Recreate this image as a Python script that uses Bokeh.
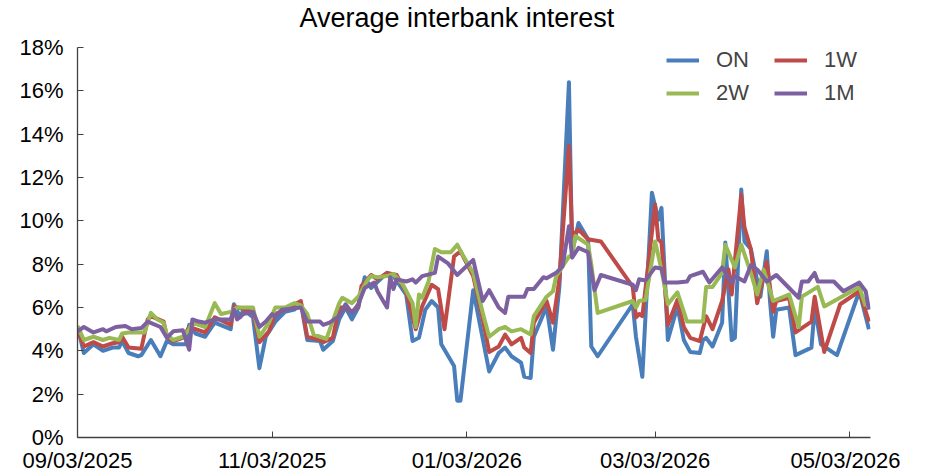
import pandas as pd
from bokeh.plotting import figure
from bokeh.models import (FixedTicker, DatetimeTickFormatter, PrintfTickFormatter,
                          Legend, LegendItem, Range1d, Label)
from bokeh.embed import file_html
from bokeh.resources import INLINE

# ---------------- data ----------------
on_dates = ["2025-09-03","2025-09-05","2025-09-08","2025-09-11","2025-09-14","2025-09-16","2025-09-17",
            "2025-09-19","2025-09-22","2025-09-23","2025-09-26","2025-09-29","2025-10-01","2025-10-03",
            "2025-10-07","2025-10-08","2025-10-10","2025-10-13","2025-10-16","2025-10-21","2025-10-22",
            "2025-10-24","2025-10-25","2025-10-28","2025-10-30","2025-11-01","2025-11-04","2025-11-07",
            "2025-11-10","2025-11-12","2025-11-14","2025-11-18","2025-11-19","2025-11-22","2025-11-24",
            "2025-11-26","2025-11-28","2025-11-30","2025-12-02","2025-12-04","2025-12-09","2025-12-11",
            "2025-12-15","2025-12-17","2025-12-19","2025-12-21","2025-12-23","2025-12-25","2025-12-26",
            "2025-12-30","2025-12-31","2026-01-01","2026-01-05","2026-01-10","2026-01-13","2026-01-15",
            "2026-01-17","2026-01-20","2026-01-21","2026-01-23","2026-01-24","2026-01-28","2026-01-30",
            "2026-02-01","2026-02-04","2026-02-05","2026-02-07","2026-02-10","2026-02-11","2026-02-13",
            "2026-02-24","2026-02-25","2026-02-27","2026-03-02","2026-03-04","2026-03-05","2026-03-07",
            "2026-03-10","2026-03-12","2026-03-14","2026-03-17","2026-03-18","2026-03-19","2026-03-21",
            "2026-03-24","2026-03-25","2026-03-27","2026-03-28","2026-03-30","2026-03-31","2026-04-02",
            "2026-04-05","2026-04-07","2026-04-08","2026-04-09","2026-04-10","2026-04-14","2026-04-16",
            "2026-04-21","2026-04-22","2026-04-24","2026-04-29","2026-05-06","2026-05-09"]
on_values = [5.1,3.9,4.3,4.0,4.15,4.15,4.45,
             3.9,3.75,3.8,4.5,3.75,4.45,4.3,
             4.3,5.2,4.8,4.65,5.3,5.0,6.15,
             5.55,5.9,5.55,3.2,4.65,5.35,5.8,
             5.9,6.2,4.5,4.45,4.05,4.45,5.45,
             6.0,5.45,6.0,7.4,6.9,7.6,7.45,
             6.6,4.45,4.6,5.9,6.3,6.0,4.3,
             3.3,1.7,1.7,6.8,3.05,3.9,4.15,
             3.75,3.45,2.8,2.75,4.65,6.05,4.05,
             6.95,16.4,8.55,9.9,9.15,4.2,3.75,
             6.15,4.65,2.8,11.3,10.05,10.6,4.5,
             6.05,4.5,3.95,3.9,4.5,4.6,4.2,
             5.3,9.0,4.5,4.6,11.45,9.05,8.7,
             6.5,8.6,6.3,4.65,5.9,6.0,3.8,
             4.15,6.0,4.3,3.8,6.75,5.0]

w1_dates = ["2025-09-03","2025-09-05","2025-09-08","2025-09-11","2025-09-14","2025-09-16","2025-09-17",
            "2025-09-19","2025-09-23","2025-09-25","2025-09-26","2025-09-30","2025-10-01","2025-10-03",
            "2025-10-06","2025-10-08","2025-10-10","2025-10-13","2025-10-16","2025-10-21","2025-10-22",
            "2025-10-28","2025-10-30","2025-11-02","2025-11-04","2025-11-07","2025-11-12","2025-11-14",
            "2025-11-18","2025-11-19","2025-11-22","2025-11-24","2025-11-26","2025-11-28","2025-11-30",
            "2025-12-01","2025-12-04","2025-12-06","2025-12-09","2025-12-12","2025-12-15","2025-12-18",
            "2025-12-20","2025-12-23","2025-12-25","2025-12-27","2025-12-30","2026-01-01","2026-01-05",
            "2026-01-08","2026-01-10","2026-01-13","2026-01-15","2026-01-17","2026-01-20","2026-01-21",
            "2026-01-23","2026-01-24","2026-01-28","2026-01-30","2026-02-01","2026-02-04","2026-02-05",
            "2026-02-07","2026-02-10","2026-02-14","2026-02-24","2026-02-25","2026-02-26","2026-02-27",
            "2026-03-03","2026-03-04","2026-03-05","2026-03-07","2026-03-10","2026-03-12","2026-03-14",
            "2026-03-17","2026-03-19","2026-03-21","2026-03-24","2026-03-26","2026-03-27","2026-03-30",
            "2026-03-31","2026-04-02","2026-04-04","2026-04-07","2026-04-09","2026-04-10","2026-04-14",
            "2026-04-16","2026-04-21","2026-04-22","2026-04-25","2026-04-30","2026-05-06","2026-05-09"]
w1_values = [5.0,4.2,4.4,4.2,4.35,4.4,4.65,
             4.15,4.1,5.45,5.6,5.35,4.65,4.45,
             4.6,5.1,5.0,4.85,5.55,5.2,6.05,
             5.8,4.4,4.9,5.7,5.9,6.3,4.65,
             4.5,4.4,4.6,6.0,6.0,5.8,6.05,
             7.0,7.5,7.3,7.6,7.5,6.7,5.0,
             6.05,7.05,6.85,5.0,8.35,8.6,7.45,
             5.45,3.95,4.2,4.75,4.3,4.6,4.15,
             3.9,5.3,6.3,5.3,7.3,13.45,9.3,
             9.6,9.15,9.05,6.95,5.55,5.7,5.6,
             10.75,9.15,9.0,5.2,6.35,5.1,4.6,
             4.45,5.6,5.0,6.3,7.75,6.6,11.2,
             9.7,8.7,6.2,8.1,5.8,6.3,6.45,
             4.85,5.35,6.5,3.95,6.15,6.75,5.35]

w2_dates = ["2025-09-03","2025-09-05","2025-09-08","2025-09-11","2025-09-13","2025-09-16","2025-09-17",
            "2025-09-19","2025-09-24","2025-09-26","2025-09-28","2025-09-30","2025-10-01","2025-10-03",
            "2025-10-06","2025-10-08","2025-10-09","2025-10-13","2025-10-16","2025-10-18","2025-10-21",
            "2025-10-23","2025-10-28","2025-10-30","2025-11-02","2025-11-04","2025-11-07","2025-11-10",
            "2025-11-12","2025-11-14","2025-11-16","2025-11-18","2025-11-20","2025-11-24","2025-11-25",
            "2025-11-28","2025-11-30","2025-12-03","2025-12-04","2025-12-06","2025-12-09","2025-12-11",
            "2025-12-14","2025-12-17","2025-12-18","2025-12-19","2025-12-20","2025-12-22","2025-12-24",
            "2025-12-26","2025-12-29","2025-12-31","2026-01-02","2026-01-05","2026-01-08","2026-01-10",
            "2026-01-13","2026-01-15","2026-01-17","2026-01-20","2026-01-23","2026-01-24","2026-01-28",
            "2026-01-30","2026-01-31","2026-02-04","2026-02-05","2026-02-06","2026-02-10","2026-02-11",
            "2026-02-13","2026-02-24","2026-02-25","2026-02-26","2026-02-28","2026-03-03","2026-03-05",
            "2026-03-07","2026-03-10","2026-03-13","2026-03-18","2026-03-19","2026-03-21","2026-03-24",
            "2026-03-25","2026-03-28","2026-03-30","2026-04-02","2026-04-04","2026-04-06","2026-04-09",
            "2026-04-14","2026-04-17","2026-04-18","2026-04-23","2026-04-25","2026-05-06","2026-05-08"]
w2_values = [5.15,4.5,4.65,4.5,4.6,4.5,4.8,
             4.85,4.85,5.75,5.45,5.3,4.75,4.5,
             4.65,5.0,5.3,5.1,6.2,5.7,5.8,
             6.0,6.0,4.65,5.3,6.0,6.0,6.2,
             6.1,5.7,4.75,4.65,4.55,6.2,6.45,
             6.2,6.5,7.3,7.45,7.4,7.45,7.55,
             7.05,6.2,5.1,6.6,6.45,7.2,8.7,
             8.55,8.55,8.9,8.35,7.6,5.75,4.65,
             5.0,5.1,4.9,5.0,4.75,5.6,6.5,
             6.75,7.45,8.35,8.4,9.3,8.9,8.0,
             5.75,6.3,6.0,6.3,6.35,9.05,7.75,
             6.15,6.7,5.35,5.35,6.95,6.95,7.6,
             8.9,7.85,8.9,7.6,6.6,7.75,6.3,
             6.6,5.1,6.5,6.95,6.05,6.95,6.05]

m1_dates = ["2025-09-03","2025-09-05","2025-09-08","2025-09-11","2025-09-12","2025-09-15","2025-09-18",
            "2025-09-20","2025-09-23","2025-09-25","2025-09-29","2025-10-01","2025-10-03","2025-10-06",
            "2025-10-08","2025-10-09","2025-10-11","2025-10-13","2025-10-16","2025-10-21","2025-10-22",
            "2025-10-23","2025-10-25","2025-10-28","2025-10-30","2025-11-01","2025-11-03","2025-11-04",
            "2025-11-06","2025-11-12","2025-11-14","2025-11-18","2025-11-19","2025-11-21","2025-11-24",
            "2025-11-26","2025-11-28","2025-11-30","2025-12-02","2025-12-05","2025-12-06","2025-12-09",
            "2025-12-10","2025-12-11","2025-12-12","2025-12-15","2025-12-17","2025-12-18","2025-12-20",
            "2025-12-24","2025-12-25","2025-12-28","2025-12-31","2026-01-05","2026-01-08","2026-01-10",
            "2026-01-13","2026-01-15","2026-01-16","2026-01-21","2026-01-22","2026-01-24","2026-01-27",
            "2026-01-28","2026-01-31","2026-02-02","2026-02-04","2026-02-05","2026-02-07","2026-02-10",
            "2026-02-12","2026-02-14","2026-02-24","2026-02-25","2026-02-26","2026-02-28","2026-03-03",
            "2026-03-05","2026-03-06","2026-03-10","2026-03-13","2026-03-14","2026-03-18","2026-03-20",
            "2026-03-24","2026-03-27","2026-03-28","2026-03-31","2026-04-02","2026-04-04","2026-04-07",
            "2026-04-10","2026-04-17","2026-04-18","2026-04-20","2026-04-22","2026-04-23","2026-04-28",
            "2026-05-01","2026-05-06","2026-05-08","2026-05-09"]
m1_values = [4.9,5.1,4.85,5.0,4.9,5.1,5.15,
             5.0,5.05,5.35,5.1,4.6,4.9,4.95,
             4.05,5.45,5.35,5.3,5.45,5.45,5.9,
             5.45,5.7,5.8,5.1,5.35,5.7,5.55,
             5.9,6.0,5.35,5.35,5.2,5.3,5.6,
             6.15,5.75,6.15,6.9,7.15,6.75,6.0,
             7.4,6.85,7.3,7.2,7.3,7.15,7.45,
             7.6,8.35,8.05,7.5,8.2,6.3,6.8,
             6.0,5.75,6.5,6.5,6.85,6.85,7.4,
             7.35,7.6,7.9,9.75,8.3,8.75,8.55,
             6.8,7.5,7.05,6.8,7.3,7.25,7.85,
             7.8,7.15,7.15,7.2,7.45,7.65,7.15,
             7.85,7.15,7.45,7.2,7.95,7.75,7.2,
             7.5,6.45,7.2,7.2,7.6,7.2,7.2,
             6.75,7.15,6.75,5.9]

series_names = ["ON", "1W", "2W", "1M"]
series_colors = ["#4A7EBB", "#BE4B48", "#98B954", "#7D60A0"]

tick_dates = ["2025-09-03", "2025-11-03", "2026-01-03", "2026-03-03", "2026-05-03"]
y_ticks = [0, 2, 4, 6, 8, 10, 12, 14, 16, 18]
y_axis_max = 18
x_start, x_end = "2025-09-03", "2026-05-09 12:00"
title_text = "Average interbank interest"

FONT = "Liberation Sans"

# ---------------- layout ----------------
AXIS_PX = 390          # pixel height of the 0..18% axis
FRAME_PX = 437         # frame extends above the axis to host the title
y_range_end = y_axis_max * FRAME_PX / AXIS_PX

p = figure(x_axis_type="datetime", frame_width=793, frame_height=FRAME_PX,
           x_range=Range1d(pd.Timestamp(x_start), pd.Timestamp(x_end)),
           y_range=Range1d(0, y_range_end),
           output_backend="svg", toolbar_location=None,
           min_border_left=77, min_border_right=30, min_border_top=0, min_border_bottom=10,
           background_fill_color="white", border_fill_color="white")
p.outline_line_color = None
p.grid.visible = False

# title, placed inside the (extended) frame above the axis top
p.add_layout(Label(x=222, y=AXIS_PX + 30, x_units="screen", y_units="screen", text=title_text,
                   text_font=FONT, text_font_size="27px", text_color="black",
                   text_align="left", text_baseline="middle"))

# axes
p.xaxis.ticker = FixedTicker(ticks=[pd.Timestamp(d).value // 10**6 for d in tick_dates])
fmt = "%m/%d/%Y"
p.xaxis.formatter = DatetimeTickFormatter(milliseconds=fmt, seconds=fmt, minsec=fmt, minutes=fmt,
                                          hourmin=fmt, hours=fmt, days=fmt, months=fmt, years=fmt)
p.yaxis.ticker = FixedTicker(ticks=y_ticks)
p.yaxis.formatter = PrintfTickFormatter(format="%d%%")
p.yaxis.bounds = (0, y_axis_max)
for ax in (p.xaxis, p.yaxis):
    ax.major_label_text_font = FONT
    ax.major_label_text_font_size = "22px"
    ax.major_label_text_color = "black"
    ax.axis_line_color = "#404040"
    ax.axis_line_width = 1.3
    ax.major_tick_line_color = "#404040"
    ax.major_tick_in = 6
    ax.major_tick_out = 0
    ax.minor_tick_line_color = None
p.xaxis.major_label_standoff = 10
p.yaxis.major_label_standoff = 14

all_dates = [on_dates, w1_dates, w2_dates, m1_dates]
all_values = [on_values, w1_values, w2_values, m1_values]
renderers = []
for name, col, d, v in zip(series_names, series_colors, all_dates, all_values):
    r = p.line(pd.to_datetime(d), v, line_color=col, line_width=4, line_join="round")
    renderers.append(r)

legend = Legend(items=[LegendItem(label=n, renderers=[r]) for n, r in zip(series_names, renderers)],
                orientation="horizontal", ncols=2,
                location=(589, 331), padding=0, margin=0, spacing=7,
                glyph_width=33, glyph_height=24, label_height=24, label_width=51, label_standoff=17,
                label_text_font=FONT, label_text_font_size="22px",
                border_line_alpha=0, background_fill_alpha=0)
p.add_layout(legend)

open("out.html", "w").write(file_html(p, INLINE))
